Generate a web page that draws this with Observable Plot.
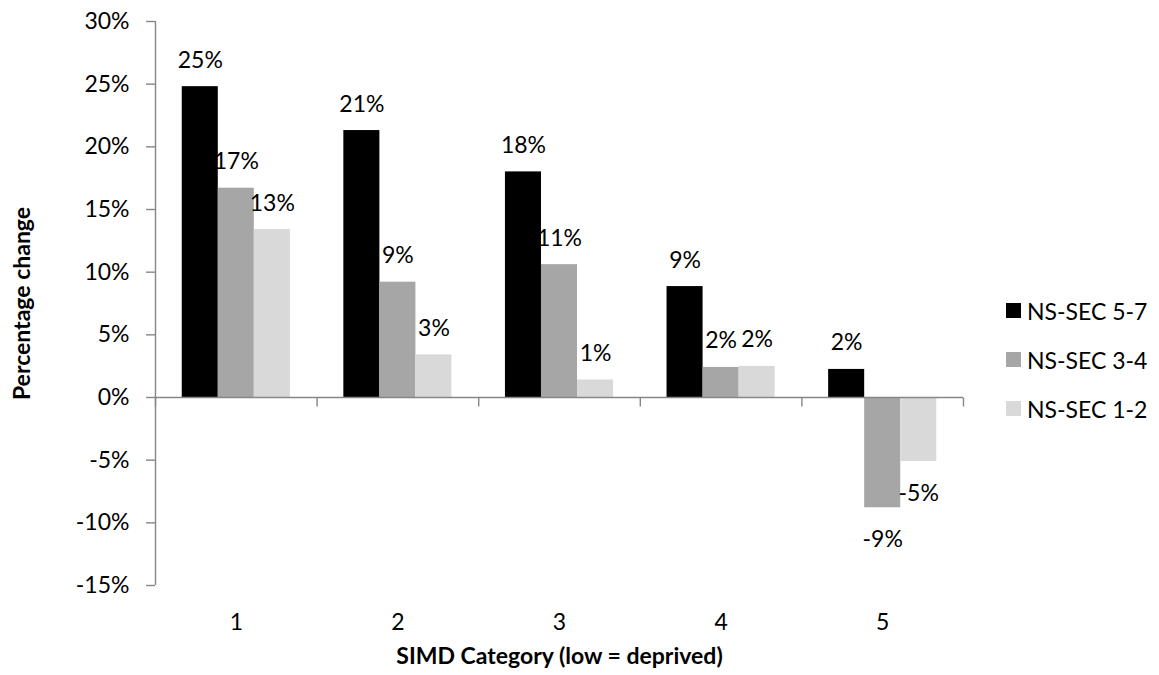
<!DOCTYPE html>
<html>
<head>
<meta charset="utf-8">
<script src="https://cdn.jsdelivr.net/npm/d3@7"></script>
<script src="https://cdn.jsdelivr.net/npm/@observablehq/plot@0.6"></script>
<style>
  html, body { margin: 0; padding: 0; background: white; }
  #wrap { position: relative; width: 1159px; height: 675px; font-family: Lato, sans-serif; }
  #legend { position: absolute; left: 1006px; top: 286px; font-size: 23px; color: #000; }
  .item { display: flex; align-items: center; height: 49px; }
  .sw { width: 15px; height: 15px; margin-right: 6px; }
</style>
</head>
<body>
<div id="wrap"><div id="legend"></div></div>
<script>
const categories = [1, 2, 3, 4, 5];
const seriesNames = ["NS-SEC 5-7", "NS-SEC 3-4", "NS-SEC 1-2"];
const seriesColors = ["#000000", "#a6a6a6", "#d9d9d9"];
const nssec57 = [24.8, 21.3, 18.0, 8.85, 2.24];
const nssec34 = [16.7, 9.2, 10.6, 2.4, -8.8];
const nssec12 = [13.4, 3.4, 1.4, 2.48, -5.1];
const yTicks = [-15, -10, -5, 0, 5, 10, 15, 20, 25, 30];
const xTitle = "SIMD Category (low = deprived)";
const yTitle = "Percentage change";

const seriesValues = [nssec57, nssec34, nssec12];
const rows = [];
categories.forEach((c, i) => {
  seriesNames.forEach((s, j) => {
    rows.push({cat: c, series: s, j, value: seriesValues[j][i]});
  });
});
const boundaries = categories.map(c => c - 0.5).concat([categories[categories.length - 1] + 0.5]);

const barW = 0.223;
const gray = "#868686";
const cx = d => d.cat + (d.j - 1) * barW;
const tickDown = {draw(ctx) { ctx.moveTo(0, 0); ctx.lineTo(0, 9); }};
const label = d => Math.round(d.value) + "%";

const chart = Plot.plot({
  width: 1159,
  height: 675,
  marginLeft: 155,
  marginRight: 196,
  marginTop: 21,
  marginBottom: 90,
  style: {fontFamily: "Lato, sans-serif", fontSize: "23px", color: "#000", background: "white"},
  x: {domain: [0.5, 5.5]},
  y: {domain: [-15, 30]},
  color: {domain: seriesNames, range: seriesColors},
  marks: [
    Plot.rect(rows, {
      x1: d => d.cat + (d.j - 1.5) * barW,
      x2: d => d.cat + (d.j - 0.5) * barW,
      y1: 0,
      y2: "value",
      fill: "series"
    }),
    Plot.ruleY([0], {stroke: gray, strokeWidth: 1.4}),
    Plot.ruleX([0.5], {stroke: gray, strokeWidth: 1.4}),
    Plot.dot(boundaries, {x: d => d, y: 0, symbol: tickDown, fill: "none", stroke: gray, strokeWidth: 1.4}),
    Plot.axisY({ticks: yTicks, tickFormat: d => d + "%", tickSize: 9, tickPadding: 17,
      stroke: gray, strokeWidth: 1.4, fill: "#000", fontSize: 23, label: null}),
    Plot.axisX({ticks: categories, tickFormat: d => String(d), tickSize: 0, tickPadding: 28,
      fill: "#000", fontSize: 23, label: null}),
    Plot.text(rows.filter(d => d.value >= 0), {x: cx, y: "value", text: label,
      dy: -19, lineAnchor: "bottom", textAnchor: "middle", fill: "#000", fontSize: 23}),
    Plot.text(rows.filter(d => d.value < 0), {x: cx, y: "value", text: label,
      dy: 23, lineAnchor: "top", textAnchor: "middle", fill: "#000", fontSize: 23}),
    Plot.text([xTitle], {frameAnchor: "bottom", dy: 78, lineAnchor: "bottom", textAnchor: "middle",
      fontWeight: "bold", fontSize: 23, fill: "#000"}),
    Plot.text([yTitle], {frameAnchor: "left", dx: -133, rotate: -90, lineAnchor: "middle", textAnchor: "middle",
      fontWeight: "bold", fontSize: 23, fill: "#000"})
  ]
});

const wrap = document.getElementById("wrap");
wrap.insertBefore(chart, wrap.firstChild);

const legend = document.getElementById("legend");
seriesNames.forEach((s, j) => {
  const item = document.createElement("div");
  item.className = "item";
  const sw = document.createElement("div");
  sw.className = "sw";
  sw.style.background = seriesColors[j];
  const t = document.createElement("span");
  t.textContent = s;
  item.appendChild(sw);
  item.appendChild(t);
  legend.appendChild(item);
});
</script>
</body>
</html>
